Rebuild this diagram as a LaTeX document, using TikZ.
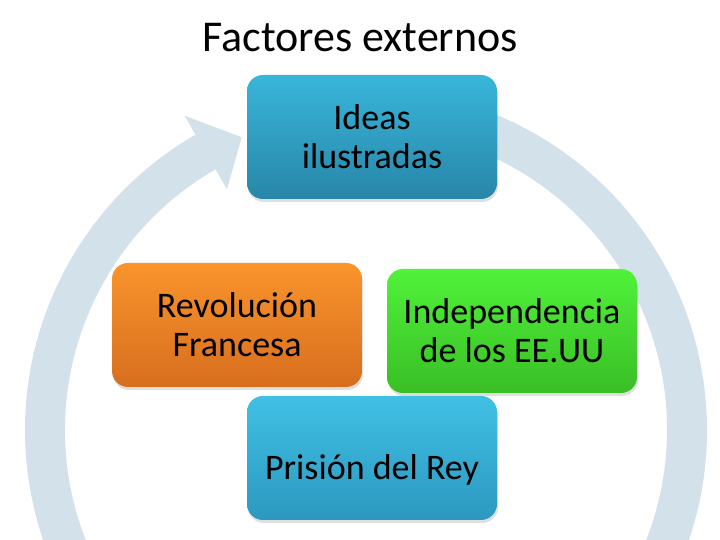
\documentclass[tikz,border=0pt]{standalone}
\usepackage{fontspec}
\setmainfont{Carlito}
\usetikzlibrary{shadows}
\definecolor{ringc}{RGB}{211,226,234}
\definecolor{blueT}{RGB}{56,182,218}
\definecolor{blueB}{RGB}{40,134,168}
\definecolor{blue2T}{RGB}{64,192,228}
\definecolor{blue2B}{RGB}{44,152,192}
\definecolor{orT}{RGB}{250,148,44}
\definecolor{orB}{RGB}{214,110,30}
\definecolor{grT}{RGB}{80,242,58}
\definecolor{grB}{RGB}{58,190,38}
\tikzset{
  box/.style={rounded corners=16pt, minimum width=250pt, minimum height=124pt,
    align=center, font=\fontsize{36}{39}\selectfont, text=black, inner sep=0pt,
    drop shadow={opacity=0.25, shadow xshift=1pt, shadow yshift=-3pt}},
  bluebox/.style={box, top color=blueT, bottom color=blueB},
  blue2box/.style={box, top color=blue2T, bottom color=blue2B},
  orbox/.style={box, top color=orT, bottom color=orB},
  grbox/.style={box, top color=grT, bottom color=grB}
}
\begin{document}
\begin{tikzpicture}[x=1pt,y=1pt]
\useasboundingbox (0,0) rectangle (720,540);
\clip (0,0) rectangle (720,540);
\fill[white] (0,0) rectangle (720,540);
\begin{scope}[shift={(366,110)}]
  \fill[ringc] (95:341) arc[start angle=95,end angle=-240,radius=341]
    -- (120:363) -- (113:318) -- (120:278) -- (120:301)
    arc[start angle=-240,end angle=95,radius=301] -- cycle;
\end{scope}
\node (title) at (360,502) {\fontsize{44}{50}\selectfont Factores externos};
\node[bluebox] (ideas) at (372,403) {Ideas\\ilustradas};
\node[orbox] (rev) at (237,215) {Revolución\\Francesa};
\node[grbox] (ind) at (512,209) {Independencia\\de los EE.UU};
\node[blue2box] (pri) at (372,82) {};
\node (pritext) at (372,70) {\fontsize{36}{39}\selectfont Prisión del Rey};
\end{tikzpicture}
\end{document}
